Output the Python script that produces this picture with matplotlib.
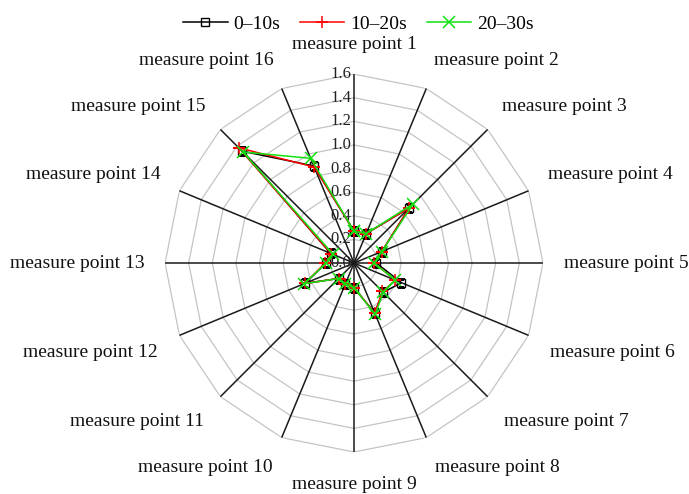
import numpy as np
import matplotlib
matplotlib.use("Agg")
import matplotlib.pyplot as plt

plt.rcParams['font.family'] = ['Liberation Serif', 'DejaVu Serif']

points = ["measure point %d" % i for i in range(1, 17)]
series_names = ["0\u201310s", "10\u201320s", "20\u201330s"]

s_0_10 = [0.27, 0.27, 0.66, 0.255, 0.19, 0.435, 0.35, 0.455,
          0.21, 0.19, 0.185, 0.45, 0.235, 0.215, 1.34, 0.89]
s_10_20 = [0.27, 0.27, 0.66, 0.255, 0.17, 0.38, 0.34, 0.46,
           0.21, 0.19, 0.185, 0.45, 0.245, 0.21, 1.38, 0.88]
s_20_30 = [0.27, 0.27, 0.71, 0.255, 0.17, 0.38, 0.35, 0.47,
           0.21, 0.19, 0.185, 0.46, 0.235, 0.19, 1.33, 0.96]

rings = [0.2, 0.4, 0.6, 0.8, 1.0, 1.2, 1.4, 1.6]
tick_labels = ["0.0", "0.2", "0.4", "0.6", "0.8", "1.0", "1.2", "1.4", "1.6"]

n = len(points)
angles = np.arange(n) * 2 * np.pi / n
closed = np.append(angles, angles[0])

fig = plt.figure(figsize=(6.89, 4.94), dpi=100)
ax = fig.add_axes([0.2395, 0.085, 0.5486, 0.765], projection='polar')
ax.set_theta_zero_location('N')
ax.set_theta_direction(-1)
ax.set_ylim(0, 1.6)
ax.grid(False)
ax.spines['polar'].set_visible(False)
ax.set_xticks([])
ax.set_yticks([])

# polygon grid
for r in rings:
    ax.plot(closed, [r] * (n + 1), color='#c4c4c4', lw=0.9, zorder=1)

# spokes
for a in angles:
    ax.plot([a, a], [0, 1.6], color='#1a1a1a', lw=1.1, zorder=2)

# radial tick labels along the top spoke
for i, lab in enumerate(tick_labels):
    ax.annotate(lab, xy=(0, i * 0.2), xytext=(-2, 0), textcoords='offset points',
                ha='right', va='center', fontsize=12, color='#222222', zorder=3)

# category labels
for a, lab in zip(angles, points):
    sx, sy = np.sin(a), np.cos(a)
    ha = 'left' if sx > 0.1 else ('right' if sx < -0.1 else 'center')
    va = 'bottom' if sy > 0.1 else ('top' if sy < -0.1 else 'center')
    d = 17 if sy < -0.1 else 15
    ax.annotate(lab, xy=(a, 1.6), xytext=(d * sx, d * sy), textcoords='offset points',
                ha=ha, va=va, fontsize=14, color='#111111', annotation_clip=False)

def close(v):
    return list(v) + [v[0]]

ax.plot(closed, close(s_0_10), color='black', lw=1.1, marker='s', ms=6,
        mfc='none', mec='black', mew=1.0, label=series_names[0], zorder=4)
ax.plot(closed, close(s_10_20), color='#ff0000', lw=1.1, marker='+', ms=8,
        mew=1.1, label=series_names[1], zorder=5)
ax.plot(closed, close(s_20_30), color='#11e011', lw=1.1, marker='x', ms=8,
        mew=1.1, label=series_names[2], zorder=6)

fig.legend(loc='upper center', bbox_to_anchor=(0.52, 1.005), ncol=3, frameon=False,
           fontsize=14, handlelength=2.3, handletextpad=0.3, columnspacing=1.0)

fig.savefig('out.png', dpi=100)
